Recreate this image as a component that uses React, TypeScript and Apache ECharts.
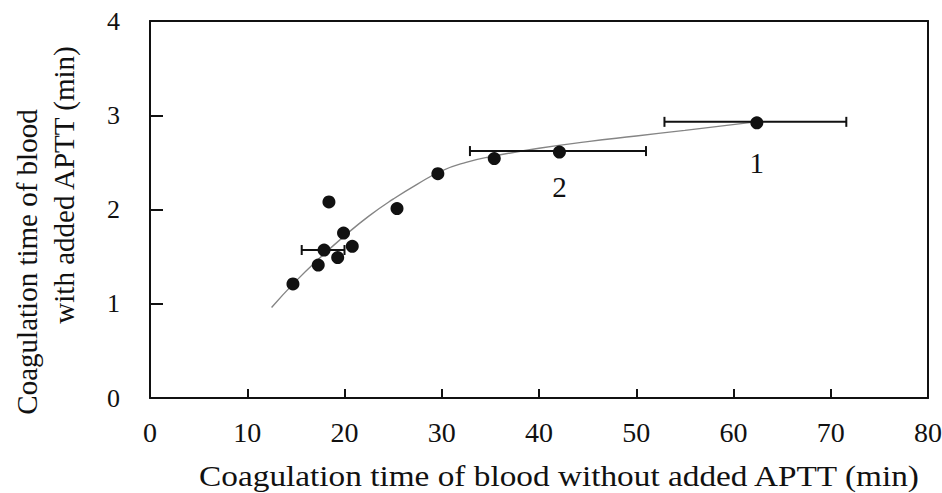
import React, { useEffect, useRef } from "react";
import * as echarts from "echarts";

const pointX = [14.7, 17.3, 17.9, 18.4, 19.3, 19.9, 20.8, 25.4, 29.6, 35.4, 42.1, 62.4];
const pointY = [1.21, 1.41, 1.57, 2.08, 1.49, 1.75, 1.61, 2.01, 2.38, 2.54, 2.61, 2.92];

const curveX = [12.5, 15, 17.5, 20, 22.5, 25, 27.5, 30, 32.5, 35, 40, 45, 50, 55, 62.3];
const curveY = [0.96, 1.24, 1.49, 1.72, 1.93, 2.11, 2.27, 2.41, 2.5, 2.56, 2.65, 2.72, 2.78, 2.84, 2.93];

const errY = [1.57, 2.62, 2.93];
const errLow = [15.6, 32.9, 52.9];
const errHigh = [20.0, 51.0, 71.6];

const labelX = [42.1, 62.4];
const labelY = [2.24, 2.49];
const labelText = ["2", "1"];

const xTitle = "Coagulation time of blood without added APTT (min)";
const yTitle1 = "Coagulation time of blood";
const yTitle2 = "with added APTT (min)";

const FONT = "'Liberation Serif', 'Times New Roman', serif";

export default function App() {
  const ref = useRef<HTMLDivElement>(null);
  useEffect(() => {
    if (!ref.current) return;
    const chart = echarts.init(ref.current, undefined, { renderer: "svg" });
    const axisLine = { show: true, onZero: false, lineStyle: { color: "#111", width: 2 } };
    const option: any = {
      animation: false,
      backgroundColor: "#fff",
      textStyle: { fontFamily: FONT },
      grid: {
        left: 150,
        right: 14,
        top: 21,
        bottom: 95,
        containLabel: false,
        outerBoundsMode: "none",
        show: false,
      },
      xAxis: [
        {
          type: "value",
          position: "bottom",
          min: 0,
          max: 80,
          interval: 10,
          axisLine,
          axisTick: { show: true, inside: true, length: 9, lineStyle: { color: "#111", width: 2 } },
          axisLabel: { show: true, fontSize: 28, color: "#111", margin: 20, fontFamily: FONT },
          splitLine: { show: false },
        },
        {
          type: "value",
          position: "top",
          min: 0,
          max: 80,
          interval: 10,
          axisLine,
          axisTick: { show: false },
          axisLabel: { show: false },
          splitLine: { show: false },
        },
      ],
      yAxis: [
        {
          type: "value",
          position: "left",
          min: 0,
          max: 4,
          interval: 1,
          axisLine,
          axisTick: { show: true, inside: true, length: 13, lineStyle: { color: "#111", width: 2 } },
          axisLabel: { show: true, fontSize: 26, color: "#111", margin: 30, fontFamily: FONT },
          splitLine: { show: false },
        },
        {
          type: "value",
          position: "right",
          min: 0,
          max: 4,
          interval: 1,
          axisLine,
          axisTick: { show: false },
          axisLabel: { show: false },
          splitLine: { show: false },
        },
      ],
      graphic: [
        {
          type: "text",
          x: 27,
          y: 262,
          rotation: Math.PI / 2,
          style: { text: yTitle1, fontSize: 29, fontFamily: FONT, fill: "#111", align: "center", verticalAlign: "middle" },
        },
        {
          type: "text",
          x: 64,
          y: 185,
          rotation: Math.PI / 2,
          style: { text: yTitle2, fontSize: 29, fontFamily: FONT, fill: "#111", align: "center", verticalAlign: "middle" },
        },
        {
          type: "text",
          x: 559,
          y: 476,
          scaleX: 1.11,
          style: { text: xTitle, fontSize: 30, fontFamily: FONT, fill: "#111", align: "center", verticalAlign: "middle" },
        },
      ],
      series: [
        {
          type: "line",
          data: curveX.map((x, i) => [x, curveY[i]]),
          smooth: 0.5,
          showSymbol: false,
          symbol: "none",
          lineStyle: { color: "#858585", width: 1.4 },
          z: 1,
        },
        {
          type: "custom",
          data: errY.map((y, i) => [errLow[i], errHigh[i], y]),
          encode: { x: [0, 1], y: 2 },
          renderItem: (_params: any, api: any) => {
            const lo = api.value(0);
            const hi = api.value(1);
            const y = api.value(2);
            const p1 = api.coord([lo, y]);
            const p2 = api.coord([hi, y]);
            const h = 5;
            const style = { stroke: "#111", lineWidth: 2 };
            return {
              type: "group",
              children: [
                { type: "line", shape: { x1: p1[0], y1: p1[1], x2: p2[0], y2: p2[1] }, style },
                { type: "line", shape: { x1: p1[0], y1: p1[1] - h, x2: p1[0], y2: p1[1] + h }, style },
                { type: "line", shape: { x1: p2[0], y1: p2[1] - h, x2: p2[0], y2: p2[1] + h }, style },
              ],
            };
          },
          z: 2,
        },
        {
          type: "scatter",
          data: pointX.map((x, i) => [x, pointY[i]]),
          symbol: "circle",
          symbolSize: 13,
          itemStyle: { color: "#111", opacity: 1 },
          z: 3,
        },
        {
          type: "scatter",
          data: labelX.map((x, i) => ({ value: [x, labelY[i]], name: labelText[i] })),
          symbolSize: 1,
          itemStyle: { color: "rgba(0,0,0,0)", opacity: 1 },
          label: { show: true, position: "inside", formatter: "{b}", fontSize: 29, color: "#111", opacity: 1, fontFamily: FONT },
          z: 4,
        },
      ],
    };
    chart.setOption(option);
    return () => chart.dispose();
  }, []);
  return <div ref={ref} style={{ width: 942, height: 493, position: "absolute", left: 0, top: 0 }} />;
}
